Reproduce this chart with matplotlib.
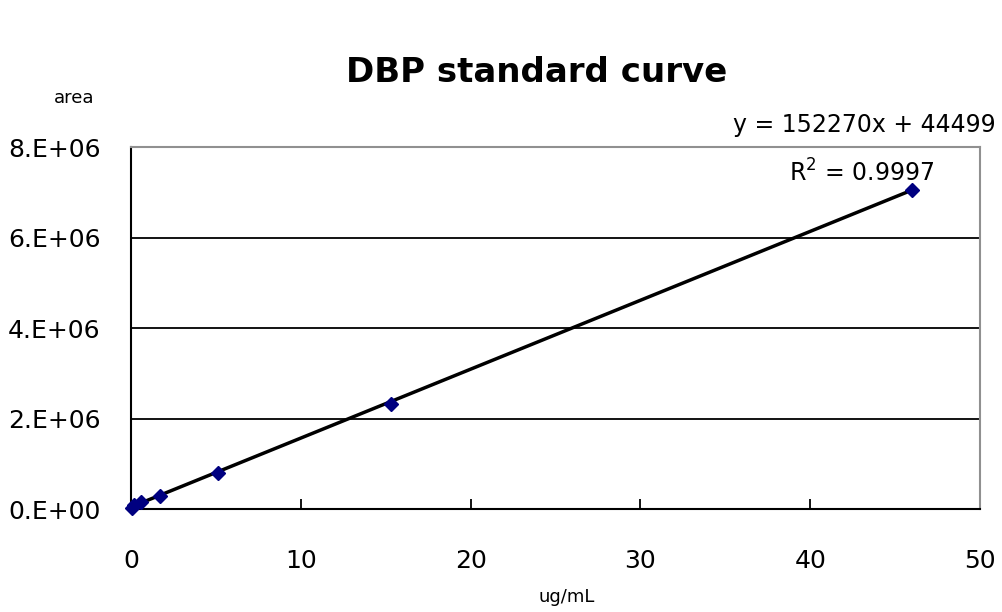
import numpy as np
import matplotlib
matplotlib.use('Agg')
import matplotlib.pyplot as plt

# standard curve data (ug/mL vs peak area)
conc = [0.063, 0.19, 0.57, 1.7, 5.1, 15.3, 46.0]
area = [0.03e6, 0.09e6, 0.15e6, 0.28e6, 0.80e6, 2.32e6, 7.05e6]
slope = 152270
intercept = 44499
r2 = 0.9997

yticks = [0, 2e6, 4e6, 6e6, 8e6]
ytick_labels = ['0.E+00', '2.E+06', '4.E+06', '6.E+06', '8.E+06']
xticks = [0, 10, 20, 30, 40, 50]

fig = plt.figure(figsize=(10.03, 6.12), dpi=100)
ax = fig.add_axes([0.1306, 0.1683, 0.8465, 0.5915])

# trendline over the data range
xl = np.array([min(conc), max(conc)])
ax.plot(xl, slope * xl + intercept, color='black', lw=2.5, zorder=3)
ax.plot(conc, area, linestyle='none', marker='D', ms=7, color='#000080', zorder=4, clip_on=False)

ax.set_xlim(0, 50)
ax.set_ylim(0, 8e6)
ax.set_xticks(xticks)
ax.set_yticks(yticks)
ax.set_yticklabels(ytick_labels)
ax.grid(axis='y', color='black', lw=1.3)
ax.set_axisbelow(True)

for s in ['left', 'bottom']:
    ax.spines[s].set_color('black')
    ax.spines[s].set_linewidth(1.5)
for s in ['top', 'right']:
    ax.spines[s].set_color('#909090')
    ax.spines[s].set_linewidth(1.5)

ax.tick_params(axis='x', direction='in', length=7, width=1.3, pad=29, labelsize=18)
ax.tick_params(axis='y', direction='in', length=0, pad=22, labelsize=18)

fig.text(0.535, 0.882, 'DBP standard curve', ha='center', va='center',
         fontsize=24.5, fontweight='bold')
fig.text(0.074, 0.840, 'area', ha='center', va='center', fontsize=13)
fig.text(0.565, 0.025, 'ug/mL', ha='center', va='center', fontsize=13)

fig.text(0.993, 0.796, 'y = %dx + %d' % (slope, intercept), ha='right', va='center', fontsize=17)
fig.text(0.859, 0.718, 'R$^2$ = %.4f' % r2, ha='center', va='center', fontsize=17)

fig.savefig('out.png', dpi=100)
